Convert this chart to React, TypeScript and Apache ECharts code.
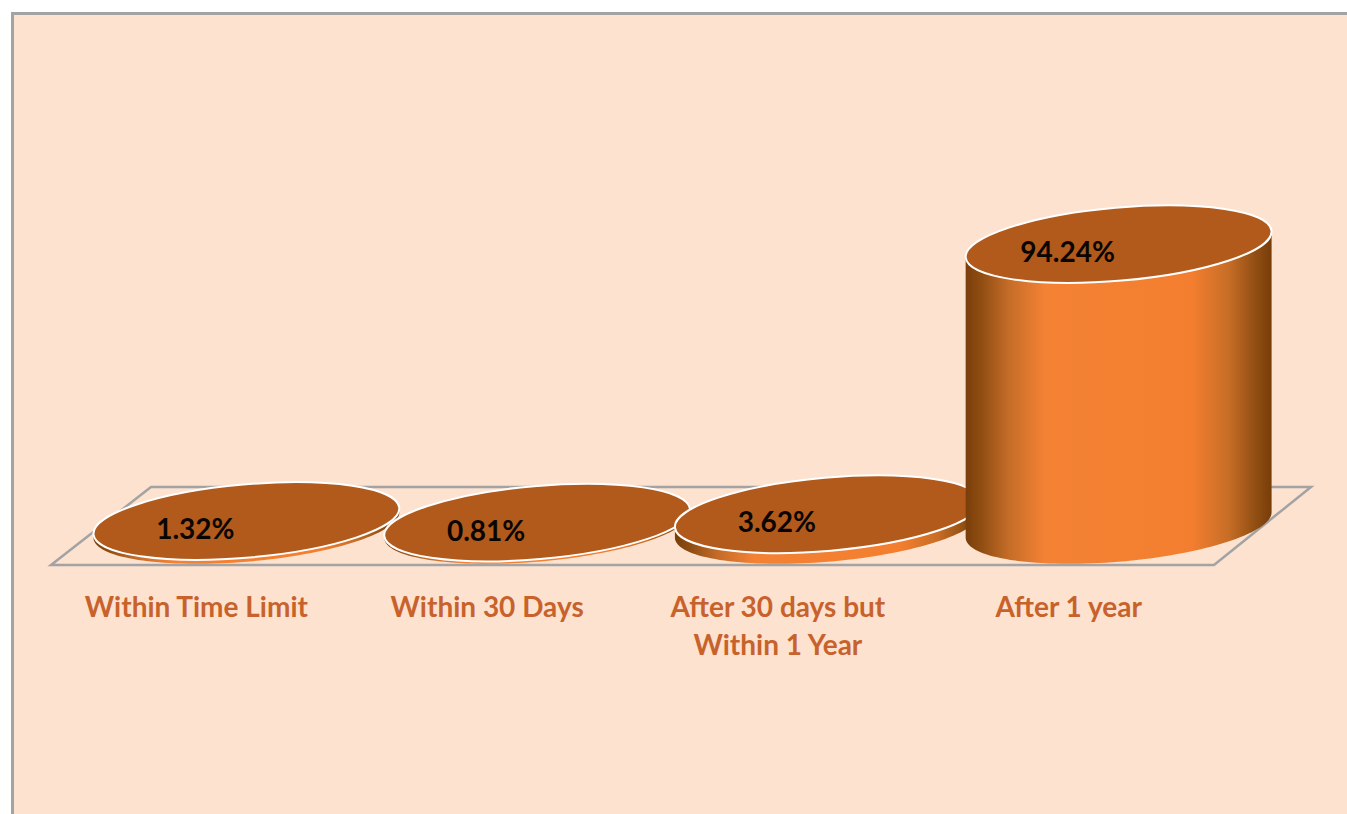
import React, { useEffect, useRef } from "react";
import * as echarts from "echarts";

const categories = ["Within Time Limit", "Within 30 Days", "After 30 days but\nWithin 1 Year", "After 1 year"];
const values = [1.32, 0.81, 3.62, 94.24];

const FONT = "Lato, Carlito, 'Noto Sans', sans-serif";
const PANEL = "#FDE2CF";
const FRAME = "#A3A3A3";
const TOP = "#B15A1C";
const LABEL = "#C8622C";

// Oblique projection of the floor
const DEPTH_X = 100;
const DEPTH_Y = 78;
const RX_RATIO = 0.528;
const RY_PX = 36.6;
const TILT = (5 * Math.PI) / 180;

function ellipsePoint(cx: number, cy: number, a: number, b: number, t: number) {
  return [
    cx + a * Math.cos(t) * Math.cos(TILT) + b * Math.sin(t) * Math.sin(TILT),
    cy - a * Math.cos(t) * Math.sin(TILT) + b * Math.sin(t) * Math.cos(TILT),
  ];
}

function renderFloor(params: any, _api: any) {
  const c = params.coordSys;
  const y = c.y + c.height;
  const pts = [
    [c.x, y],
    [c.x + c.width, y],
    [c.x + c.width + DEPTH_X - 3, y - DEPTH_Y],
    [c.x + DEPTH_X, y - DEPTH_Y],
  ];
  return {
    type: "polygon",
    shape: { points: pts },
    style: { fill: "none", stroke: FRAME, lineWidth: 2.5 },
  };
}

function renderCylinder(_p: any, api: any) {
  const idx = api.value(0);
  const v = api.value(1);
  const base = api.coord([idx, 0]);
  const top = api.coord([idx, v]);
  const band = api.size([1, 0])[0];
  const a = band * RX_RATIO;
  const b = RY_PX;
  const cx = base[0] + DEPTH_X / 2;
  const baseY = base[1] - 40;
  const topY = top[1] - 40;
  const t0 = Math.atan((b / a) * Math.tan(TILT));
  const pts: number[][] = [];
  const N = 72;
  for (let i = 0; i <= N; i++) pts.push(ellipsePoint(cx, baseY, a, b, t0 + (Math.PI * i) / N));
  for (let i = N; i >= 0; i--) pts.push(ellipsePoint(cx, topY, a, b, t0 + (Math.PI * i) / N));
  return {
    type: "group",
    children: [
      {
        type: "polygon",
        shape: { points: pts },
        style: {
          fill: new echarts.graphic.LinearGradient(0, 0, 1, 0, [
            { offset: 0, color: "#7A3E0A" },
            { offset: 0.05, color: "#8F4D12" },
            { offset: 0.14, color: "#C46C28" },
            { offset: 0.26, color: "#F48234" },
            { offset: 0.74, color: "#F37E2F" },
            { offset: 0.86, color: "#C76D26" },
            { offset: 0.95, color: "#8F4D12" },
            { offset: 1, color: "#783D08" },
          ]),
        },
      },
      {
        type: "ellipse",
        x: cx,
        y: topY,
        rotation: TILT,
        shape: { cx: 0, cy: 0, rx: a, ry: b },
        style: { fill: TOP, stroke: "#FFFFFF", lineWidth: 2 },
      },
      {
        type: "text",
        x: base[0] - 1,
        y: topY + 7,
        style: {
          text: v.toFixed(2) + "%",
          fill: "#0A0500",
          font: `bold 28px ${FONT}`,
          align: "center",
          verticalAlign: "middle",
        },
      },
    ],
  };
}

export default function App() {
  const ref = useRef<HTMLDivElement>(null);
  useEffect(() => {
    const chart = echarts.init(ref.current!, undefined, { renderer: "svg" });
    chart.setOption({
      animation: false,
      backgroundColor: "#FFFFFF",
      graphic: [
        {
          type: "rect",
          z: -10,
          shape: { x: 12.5, y: 13.5, width: 1400, height: 900 },
          style: { fill: PANEL, stroke: FRAME, lineWidth: 3 },
        },
      ],
      grid: { left: 51, right: 133, top: 267, bottom: 249 },
      xAxis: {
        type: "category",
        data: categories,
        axisLine: { show: false },
        axisTick: { show: false },
        axisLabel: {
          interval: 0,
          margin: 22,
          color: LABEL,
          fontFamily: FONT,
          fontWeight: "bold",
          fontSize: 28,
          lineHeight: 38,
        },
      },
      yAxis: { type: "value", min: 0, max: 100, interval: 20, show: false },
      series: [
        {
          type: "custom",
          name: "Floor",
          renderItem: renderFloor,
          data: [[0, 0]],
          silent: true,
          z: 1,
        },
        {
          type: "custom",
          name: "Share",
          renderItem: renderCylinder,
          data: values.map((v, i) => [i, v]),
          encode: { x: 0, y: 1 },
          clip: false,
          z: 2,
        },
      ],
    });
    return () => chart.dispose();
  }, []);
  return <div ref={ref} style={{ position: "fixed", left: 0, top: 0, width: 1347, height: 814 }} />;
}
